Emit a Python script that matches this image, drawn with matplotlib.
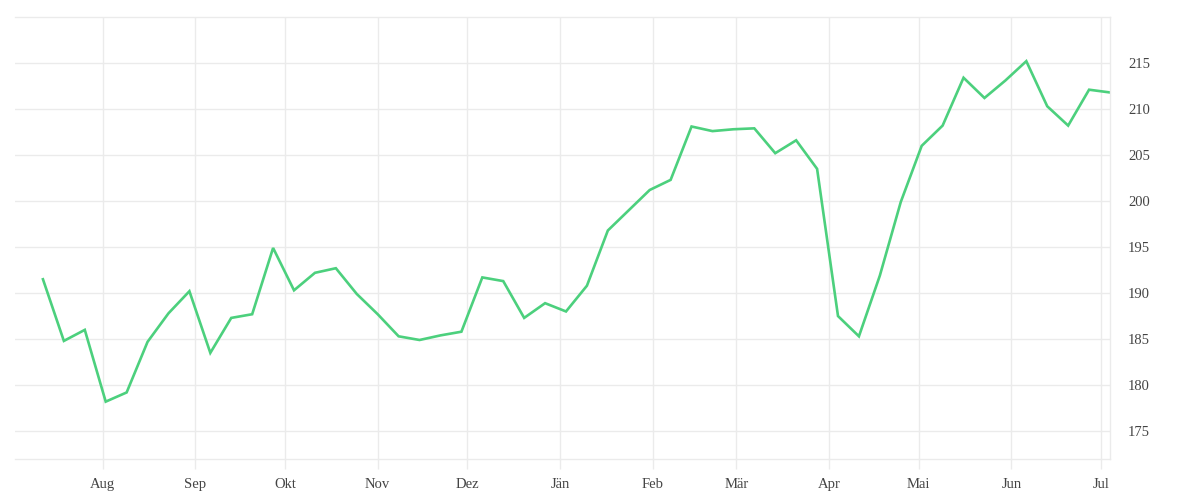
import pandas as pd
import numpy as np
import matplotlib
matplotlib.use('Agg')
import matplotlib.pyplot as plt

# weekly values
start_date = '2022-07-12'
values = [191.5, 184.8, 186.0, 178.2, 179.2, 184.7, 187.8, 190.2, 183.5, 187.3,
          187.7, 194.9, 190.3, 192.2, 192.7, 189.9, 187.7, 185.3, 184.9, 185.4,
          185.8, 191.7, 191.3, 187.3, 188.9, 188.0, 190.8, 196.8, 199.0, 201.2,
          202.3, 208.1, 207.6, 207.8, 207.9, 205.2, 206.6, 203.5, 187.5, 185.3,
          191.9, 199.9, 206.0, 208.2, 213.4, 211.2, 213.1, 215.2, 210.3, 208.2,
          212.1, 211.8]
month_labels = ['Aug', 'Sep', 'Okt', 'Nov', 'Dez', 'Jän', 'Feb', 'Mär',
                'Apr', 'Mai', 'Jun', 'Jul']
y_ticks = [175, 180, 185, 190, 195, 200, 205, 210, 215]

dates = pd.date_range(start_date, periods=len(values), freq='7D')
month_starts = pd.date_range('2022-08-01', periods=len(month_labels), freq='MS')

grid_col = '#ebebeb'
text_col = '#444444'

fig = plt.figure(figsize=(12, 5), dpi=100)
ax = fig.add_axes([15 / 1200, 1 - 458.7 / 500, (1110 - 15) / 1200, (458.7 - 17) / 500])

ax.plot(dates, values, color='#4cd07d', linewidth=1.9, solid_joinstyle='miter')

ax.set_xlim(dates[0] - pd.Timedelta(days=9.35), dates[-1])
ax.set_ylim(172.0, 220.0)

ax.set_xticks(month_starts)
ax.set_xticklabels(month_labels)
ax.set_yticks(y_ticks)

ax.yaxis.tick_right()
ax.grid(True, color=grid_col, linewidth=1)
ax.set_axisbelow(True)

ax.spines['left'].set_visible(False)
for side in ['top', 'bottom', 'right']:
    ax.spines[side].set_color(grid_col)
    ax.spines[side].set_linewidth(1)

ax.tick_params(axis='x', length=7, color=grid_col, width=1, pad=7,
               labelsize=10.5, labelcolor=text_col)
ax.tick_params(axis='y', length=0, pad=13, labelsize=10.5, labelcolor=text_col)
for lab in ax.get_xticklabels() + ax.get_yticklabels():
    lab.set_family(['Liberation Serif', 'DejaVu Serif'])
for lab in ax.get_yticklabels():
    lab.set_va('center_baseline')

plt.savefig('out.png', dpi=100, facecolor='white')
